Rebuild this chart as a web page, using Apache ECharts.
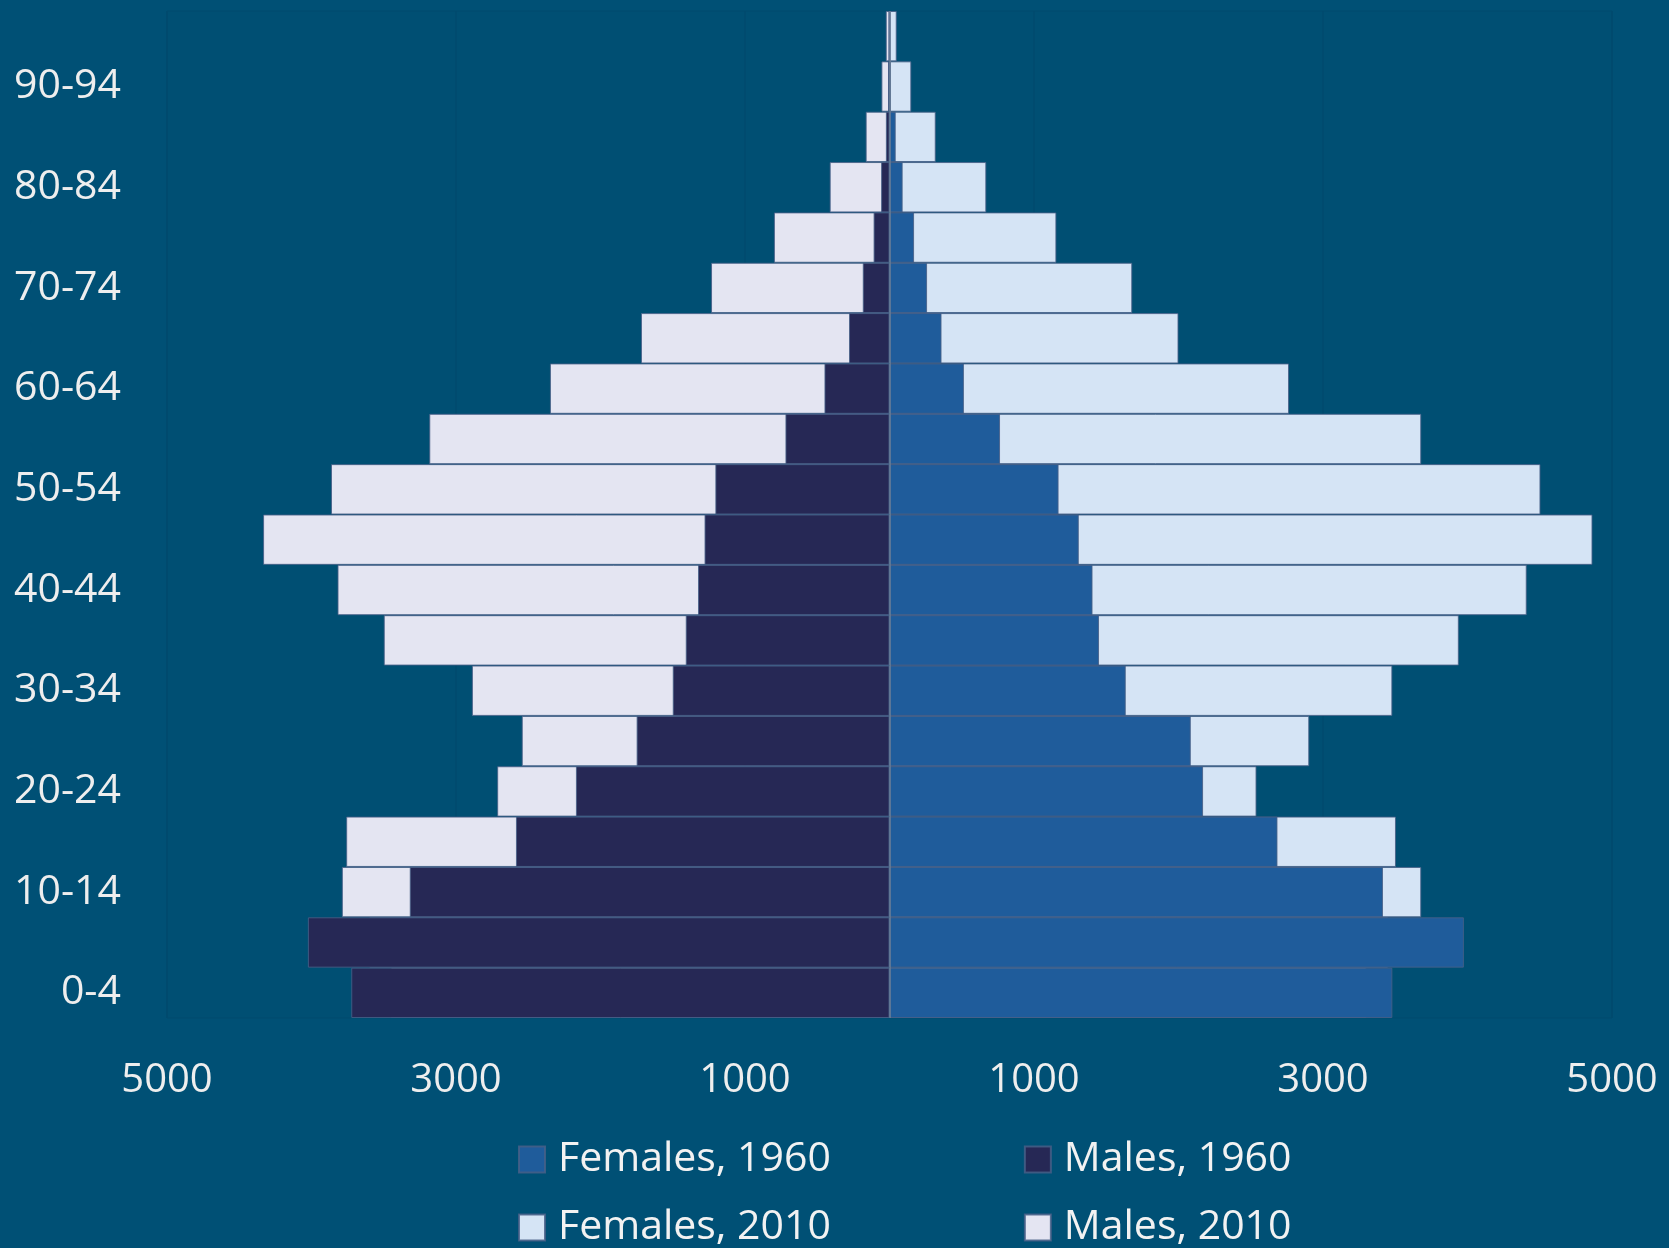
<!DOCTYPE html>
<html>
<head>
<meta charset="utf-8">
<script src="https://cdn.jsdelivr.net/npm/echarts@6/dist/echarts.min.js"></script>
<style>
    html, body { margin: 0; padding: 0; background: #005075; }
    #chart { width: 1669px; height: 1248px; }
</style>
</head>
<body>
<div id="chart"></div>
<script>
    // age groups, bottom to top
    const ageGroups = ['0-4', '5-9', '10-14', '15-19', '20-24', '25-29', '30-34', '35-39', '40-44', '45-49',
        '50-54', '55-59', '60-64', '65-69', '70-74', '75-79', '80-84', '85-89', '90-94', '95-99'];

    // population (thousands)
    const males1960 = [3725, 4025, 3320, 2585, 2170, 1750, 1500, 1410, 1325, 1280, 1205, 720, 450, 280, 185, 110, 58, 25, 10, 3];
    const males2010 = [3450, 3600, 3790, 3760, 2715, 2545, 2890, 3500, 3820, 4335, 3865, 3185, 2350, 1720, 1235, 800, 414, 165, 56, 26];
    const females1960 = [3480, 3975, 3415, 2685, 2170, 2085, 1635, 1450, 1405, 1310, 1170, 765, 515, 360, 260, 170, 91, 43, 10, 3];
    const females2010 = [3300, 3450, 3680, 3505, 2540, 2905, 3480, 3940, 4410, 4865, 4505, 3680, 2765, 2000, 1680, 1155, 670, 320, 151, 50];

    const xTicks = { min: -5000, max: 5000, interval: 2000 };

    const chart = echarts.init(document.getElementById('chart'));
    const barBorder = 'rgba(70,95,135,0.85)';
    const labelFont = "'Open Sans', sans-serif";

    function bar(name, values, color, negative) {
        return {
            name: name,
            type: 'bar',
            data: values.map(v => negative ? -v : v),
            barGap: '-100%',
            barCategoryGap: 0,
            itemStyle: { color: color, borderColor: barBorder, borderWidth: 1 },
            silent: true
        };
    }

    function legendRow(names, top) {
        return {
            data: names,
            orient: 'horizontal',
            left: 518,
            top: top,
            padding: 0,
            icon: 'rect',
            itemWidth: 26,
            itemHeight: 26,
            itemGap: 193,
            textStyle: {
                color: '#f2f2f2',
                fontFamily: labelFont,
                fontSize: 41,
                lineHeight: 41,
                padding: [0, 0, 0, 8]
            }
        };
    }

    const series = [
        bar('Males, 2010', males2010, '#e4e5f2', true),
        bar('Females, 2010', females2010, '#d5e4f5', false),
        bar('Males, 1960', males1960, '#262855', true),
        bar('Females, 1960', females1960, '#1f5c9b', false)
    ];
    // centre line at zero
    series[3].markLine = {
        silent: true,
        symbol: 'none',
        label: { show: false },
        lineStyle: { color: '#6b7f99', width: 1.5, type: 'solid' },
        data: [{ xAxis: 0 }]
    };

    const option = {
        backgroundColor: '#005075',
        animation: false,
        grid: {
            left: 167,
            right: 57,
            top: 11,
            bottom: 230,
            show: true,
            backgroundColor: '#004f73',
            borderColor: '#004a6e',
            borderWidth: 1
        },
        legend: [
            legendRow(['Females, 1960', 'Males, 1960'], 1139),
            legendRow(['Females, 2010', 'Males, 2010'], 1207)
        ],
        xAxis: {
            type: 'value',
            min: xTicks.min,
            max: xTicks.max,
            interval: xTicks.interval,
            axisLine: { show: false },
            axisTick: { show: false },
            splitLine: { show: true, lineStyle: { color: '#004a6e', width: 1.5 } },
            axisLabel: {
                color: '#eeeeee',
                fontFamily: labelFont,
                fontSize: 40,
                margin: 43,
                formatter: v => Math.abs(v)
            }
        },
        yAxis: {
            type: 'category',
            data: ageGroups,
            axisLine: { show: false, onZero: false },
            axisTick: { show: false },
            axisLabel: {
                interval: 1,
                color: '#eeeeee',
                fontFamily: labelFont,
                fontSize: 41,
                margin: 46
            }
        },
        series: series
    };

    chart.setOption(option);
</script>
</body>
</html>
